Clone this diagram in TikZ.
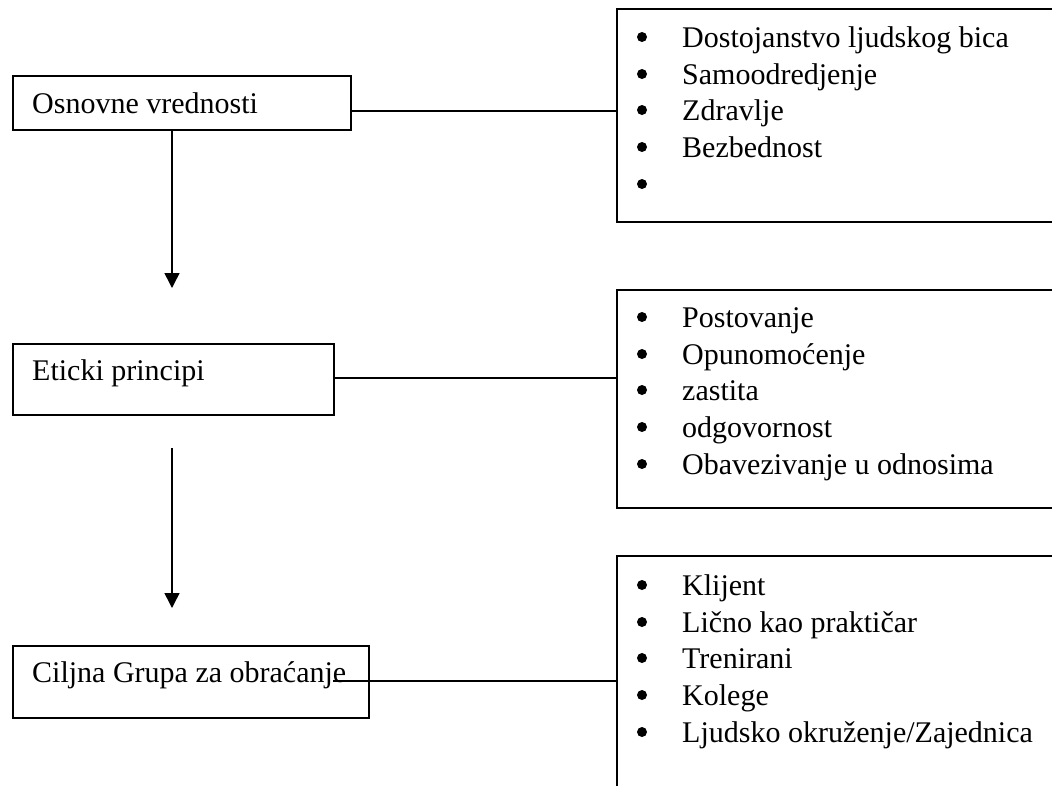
\documentclass[tikz,border=0pt]{standalone}
\usepackage{fontspec}
\setmainfont{Liberation Serif}
\usetikzlibrary{arrows.meta}
\begin{document}
\begin{tikzpicture}[x=1pt,y=1pt,
  box/.style={draw, line width=1.5pt, rectangle, inner sep=0pt, anchor=north west},
  lbl/.style={anchor=base west, inner sep=0pt, font=\fontsize{30}{36}\selectfont},
  bul/.style={circle, fill, inner sep=0pt, minimum size=10pt},
  link/.style={line width=1.5pt},
  arr/.style={line width=1.5pt, -{Triangle[width=15pt,length=15pt]}}]
\useasboundingbox (0,0) rectangle (1052,-785);
\clip (0,0) rectangle (1052,-785);
% left boxes
\node[box, minimum width=338pt, minimum height=54pt] (b1) at (12,-75) {};
\node[box, minimum width=321pt, minimum height=71pt] (b2) at (12,-343) {};
\node[box, minimum width=356pt, minimum height=72pt] (b3) at (12,-645) {};
\node[lbl] (t1) at (32,-113) {Osnovne vrednosti};
\node[lbl] (t2) at (32,-380) {Eticki principi};
\node[lbl] (t3) at (32,-682) {Ciljna Grupa za obraćanje};
% right boxes
\node[box, minimum width=460pt, minimum height=213pt] (r1) at (616,-8) {};
\node[box, minimum width=460pt, minimum height=218pt] (r2) at (616,-289) {};
\node[box, minimum width=460pt, minimum height=250pt] (r3) at (616,-555) {};
% list 1
\foreach \y/\t [count=\i] in {47/{Dostojanstvo ljudskog bica},84/{Samoodredjenje},120/{Zdravlje},157/{Bezbednost},194/{}}{
  \node[bul] (ba\i) at (642,-\y+10) {};
  \node[lbl] (la\i) at (682,-\y) {\t};
}
% list 2
\foreach \y/\t [count=\i] in {327/{Postovanje},364/{Opunomoćenje},400/{zastita},437/{odgovornost},474/{Obavezivanje u odnosima}}{
  \node[bul] (bb\i) at (642,-\y+10) {};
  \node[lbl] (lb\i) at (682,-\y) {\t};
}
% list 3
\foreach \y/\t [count=\i] in {595/{Klijent},632/{Lično kao praktičar},668/{Trenirani},705/{Kolege},742/{Ljudsko okruženje/Zajednica}}{
  \node[bul] (bc\i) at (642,-\y+10) {};
  \node[lbl] (lc\i) at (682,-\y) {\t};
}
% connectors
\coordinate (y1) at (0,-111);
\coordinate (y2) at (0,-378);
\coordinate (c3) at (333,-681);
\draw[link] (b1.east |- y1) -- (r1.west |- y1);
\draw[link] (b2.east |- y2) -- (r2.west |- y2);
\draw[link] (c3) -- (r3.west |- c3);
% arrows
\coordinate (a1) at (172,-288);
\coordinate (a2s) at (172,-448);
\coordinate (a2e) at (172,-608);
\draw[arr] (b1.south -| a1) -- (a1);
\draw[arr] (a2s) -- (a2e);
\end{tikzpicture}
\end{document}
